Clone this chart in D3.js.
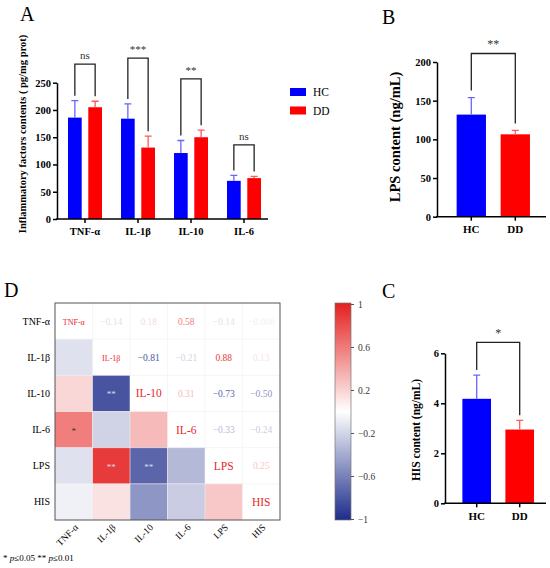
<!DOCTYPE html>
<html>
<head>
<meta charset="utf-8">
<script src="https://cdn.jsdelivr.net/npm/d3@7"></script>
<style>
  body { margin: 0; background: #fff; }
  svg { font-family: "Liberation Serif", "Times New Roman", serif; }
</style>
</head>
<body>
<svg id="fig" width="550" height="568"></svg>
<script>
// panneau A : cytokines
var cytokines = ["TNF-α", "IL-1β", "IL-10", "IL-6"];
var groups = ["HC", "DD"];
var hcMean = [186, 184, 121, 70];
var hcSD = [31, 27, 23, 10];
var ddMean = [205, 131, 150, 75];
var ddSD = [11, 21, 13, 3];
var sigA = ["ns", "***", "**", "ns"];
var bracketA = [284, 295, 257, 136];
var ticksA = [0, 50, 100, 150, 200, 250];

// panneau B : LPS
var lpsMean = [132, 106.5];
var lpsSD = [22, 5];
var ticksB = [0, 50, 100, 150, 200];

// panneau C : HIS
var hisMean = [4.18, 2.95];
var hisSD = [0.95, 0.37];
var ticksC = [0, 2, 4, 6];

// panneau D : corrélations
var vars = ["TNF-α", "IL-1β", "IL-10", "IL-6", "LPS", "HIS"];
var corr = [
  [1, -0.14, 0.18, 0.58, -0.14, -0.066],
  [-0.14, 1, -0.81, -0.21, 0.88, 0.13],
  [0.18, -0.81, 1, 0.31, -0.73, -0.50],
  [0.58, -0.21, 0.31, 1, -0.33, -0.24],
  [-0.14, 0.88, -0.73, -0.33, 1, 0.25],
  [-0.066, 0.13, -0.50, -0.24, 0.25, 1]
];
var stars = [
  ["", "", "", "", "", ""],
  ["", "", "", "", "", ""],
  ["", "**", "", "", "", ""],
  ["*", "", "", "", "", ""],
  ["", "**", "**", "", "", ""],
  ["", "", "", "", "", ""]
];
var cbTicks = [1, 0.6, 0.2, -0.2, -0.6, -1];

var colors = {HC: "#0000ff", DD: "#ff0000"};
var errColors = {HC: "#6666ff", DD: "#ff5a5a"};

var svg = d3.select("#fig");

function label(x, y, t) {
  svg.append("text").attr("x", x).attr("y", y).attr("font-size", 20).text(t);
}

// format des coefficients : 2 décimales, ou 2 chiffres significatifs si petit
function fmtCorr(v) {
  var s = Math.abs(v) < 0.1 ? d3.format(".2")(v) : d3.format(".2f")(v);
  return s.replace("-", "−");
}

// dessine un axe y en gras
function yAxis(g, scale, ticks, x) {
  var ax = g.append("g").attr("transform", `translate(${x},0)`)
    .call(d3.axisLeft(scale).tickValues(ticks).tickFormat(d => String(d)).tickSize(4).tickSizeOuter(0).tickPadding(2));
  ax.select(".domain").attr("stroke-width", 1.5);
  ax.selectAll(".tick line").attr("stroke-width", 1.5);
  ax.selectAll("text").attr("font-family", "Liberation Serif").attr("font-weight", "bold").attr("font-size", 10.5).attr("fill", "#000");
}

function xAxis(g, scale, y, x0, x1, fs) {
  g.append("line").attr("x1", x0).attr("x2", x1).attr("y1", y).attr("y2", y)
    .attr("stroke", "#000").attr("stroke-width", 1.5);
  var ax = g.append("g").attr("transform", `translate(0,${y})`)
    .call(d3.axisBottom(scale).tickSize(4).tickSizeOuter(0).tickPadding(5));
  ax.select(".domain").remove();
  ax.selectAll(".tick line").attr("stroke-width", 1.5);
  ax.selectAll("text").attr("font-family", "Liberation Serif").attr("font-weight", "bold").attr("font-size", fs).attr("fill", "#000");
}

function bracket(g, xa, xb, yTop, ya, yb, txt, fs) {
  g.append("path")
    .attr("d", `M${xa},${ya}V${yTop}H${xb}V${yb}`)
    .attr("fill", "none").attr("stroke", "#222").attr("stroke-width", 1.3);
  g.append("text").attr("x", (xa + xb) / 2).attr("y", yTop - 5)
    .attr("text-anchor", "middle").attr("font-size", fs).attr("fill", "#333").text(txt);
}

function bar(g, x, w, yv, ye, y0, grp) {
  g.append("rect").attr("x", x).attr("width", w).attr("y", yv).attr("height", y0 - yv).attr("fill", colors[grp]);
  var cx = x + w / 2;
  g.append("path").attr("d", `M${cx},${yv}V${ye}M${cx - 3.5},${ye}H${cx + 3.5}`)
    .attr("stroke", errColors[grp]).attr("stroke-width", 1.3).attr("fill", "none");
}

// ---------- A ----------
label(20, 21, "A");
var gA = svg.append("g");
var xA = d3.scaleBand().domain(cytokines).range([58.5, 270.5]);
var xIn = d3.scaleBand().domain(groups).range([-17, 17]).paddingInner(0.325);
var yA = d3.scaleLinear().domain([0, 250]).range([219, 82.7]);
cytokines.forEach((c, i) => {
  var cx = xA(c) + xA.bandwidth() / 2;
  var means = [hcMean[i], ddMean[i]], sds = [hcSD[i], ddSD[i]];
  groups.forEach((grp, j) => {
    bar(gA, cx + xIn(grp), xIn.bandwidth(), yA(means[j]), yA(means[j] + sds[j]), yA(0), grp);
  });
  var xa = cx + xIn("HC") + xIn.bandwidth() / 2, xb = cx + xIn("DD") + xIn.bandwidth() / 2;
  bracket(gA, xa, xb, yA(bracketA[i]), yA(hcMean[i] + hcSD[i]) - 5, yA(ddMean[i] + ddSD[i]) - 5, sigA[i], 11);
});
yAxis(gA, yA, ticksA, 57);
xAxis(gA, xA, 219, 56, 268, 10.5);
gA.append("text").attr("transform", "translate(26,134) rotate(-90)")
  .attr("text-anchor", "middle").attr("font-weight", "bold").attr("font-size", 10.5)
  .text("Inflammatory factors contents ( pg/mg prot)");
// légende
groups.forEach((grp, j) => {
  gA.append("rect").attr("x", 290).attr("y", 88 + j * 18.5).attr("width", 16).attr("height", 8).attr("fill", colors[grp]);
  gA.append("text").attr("x", 313).attr("y", 96 + j * 18.5).attr("font-size", 11.5).text(grp);
});

// ---------- B et C ----------
function smallPanel(mean, sd, ticks, yDom, yRange, axX, bandRange, br, legs, sig, ylab, ylabPos, ylabSize) {
  var g = svg.append("g");
  var x = d3.scaleBand().domain(groups).range(bandRange).paddingInner(0.334).paddingOuter(0.167);
  var y = d3.scaleLinear().domain(yDom).range(yRange);
  groups.forEach((grp, j) => {
    bar(g, x(grp), x.bandwidth(), y(mean[j]), y(mean[j] + sd[j]), y(0), grp);
  });
  var xa = x("HC") + x.bandwidth() / 2, xb = x("DD") + x.bandwidth() / 2;
  bracket(g, xa, xb, y(br), y(mean[0] + sd[0]) - legs, y(mean[1] + sd[1]) - legs, sig, 12);
  yAxis(g, y, ticks, axX);
  xAxis(g, x, y(0), axX - 1, 546, 11);
  g.append("text").attr("transform", `translate(${ylabPos[0]},${ylabPos[1]}) rotate(-90)`)
    .attr("text-anchor", "middle").attr("font-weight", "bold").attr("font-size", ylabSize).text(ylab);
}

label(382, 24, "B");
smallPanel(lpsMean, lpsSD, ticksB, [0, 200], [216.7, 62], 437, [449.3, 537.3], 211, 7, "**", "LPS content (ng/mL)", [400, 137], 14.5);

label(382, 298, "C");
smallPanel(hisMean, hisSD, ticksC, [0, 6], [503.3, 353.3], 445, [455.2, 541.2], 6.44, 5, "*", "HIS content (ng/mL)", [420, 430], 11.5);

// ---------- D ----------
label(4, 297, "D");
var gD = svg.append("g");
var xD = d3.scaleBand().domain(vars).range([55, 280]);
var yD = d3.scaleBand().domain(vars).range([303, 520]);
var cScale = d3.scaleLinear().domain([-1, 0, 1]).range(["#1d2c8a", "#ffffff", "#e3201f"]);

vars.forEach((r, i) => {
  vars.forEach((c, j) => {
    var v = corr[i][j];
    var x = xD(c), y = yD(r), w = xD.bandwidth(), h = yD.bandwidth();
    if (i > j) {
      gD.append("rect").attr("x", x).attr("y", y).attr("width", w).attr("height", h).attr("fill", cScale(v));
      if (stars[i][j]) {
        gD.append("text").attr("x", x + w / 2).attr("y", y + h / 2 + 4).attr("text-anchor", "middle")
          .attr("font-size", 9).attr("fill", stars[i][j] == "*" ? "#333" : "#dcdcf0").text(stars[i][j]);
      }
    } else if (i == j) {
      gD.append("text").attr("x", x + w / 2).attr("y", y + h / 2 + 4).attr("text-anchor", "middle")
        .attr("font-size", i < 2 ? 8 : 11.5).attr("fill", "#e8262b").text(r);
    } else {
      gD.append("text").attr("x", x + w / 2).attr("y", y + h / 2 + 3.5).attr("text-anchor", "middle")
        .attr("font-size", 9.5).attr("fill", cScale(v)).text(fmtCorr(v));
    }
  });
});
// grille légère
xD.domain().slice(1).forEach(c => {
  gD.append("line").attr("x1", xD(c)).attr("x2", xD(c)).attr("y1", 303).attr("y2", 520).attr("stroke", "#f0f0f0").attr("stroke-width", 0.6);
  gD.append("line").attr("y1", yD(c)).attr("y2", yD(c)).attr("x1", 55).attr("x2", 280).attr("stroke", "#f0f0f0").attr("stroke-width", 0.6);
});
gD.append("rect").attr("x", 55).attr("y", 303).attr("width", 225).attr("height", 217)
  .attr("fill", "none").attr("stroke", "#555").attr("stroke-width", 1);
vars.forEach(v => {
  gD.append("text").attr("x", 50).attr("y", yD(v) + yD.bandwidth() / 2 + 3.5).attr("text-anchor", "end")
    .attr("font-size", 10).text(v);
  gD.append("text").attr("transform", `translate(${xD(v) + xD.bandwidth() / 2 + 5},${528}) rotate(-45)`)
    .attr("text-anchor", "end").attr("font-size", 9.5).text(v);
});
var foot = gD.append("text").attr("x", 3).attr("y", 561).attr("font-size", 9);
foot.append("tspan").text("* ");
foot.append("tspan").attr("font-style", "italic").text("p");
foot.append("tspan").text("≤0.05  ** ");
foot.append("tspan").attr("font-style", "italic").text("p");
foot.append("tspan").text("≤0.01");

// barre de couleur
var cb = d3.scaleLinear().domain([-1, 1]).range([519, 304]);
var grad = svg.append("defs").append("linearGradient").attr("id", "cbgrad")
  .attr("x1", 0).attr("x2", 0).attr("y1", 1).attr("y2", 0);
[-1, 0, 1].forEach(s => grad.append("stop").attr("offset", (s + 1) / 2).attr("stop-color", cScale(s)));
svg.append("rect").attr("x", 335).attr("y", 303).attr("width", 16).attr("height", 217)
  .attr("fill", "url(#cbgrad)").attr("stroke", "#777").attr("stroke-width", 0.7);
var cbAx = svg.append("g").attr("transform", "translate(351,0)")
  .call(d3.axisRight(cb).tickValues(cbTicks).tickSize(3).tickPadding(4).tickFormat(d => String(d).replace("-", "−")));
cbAx.select(".domain").remove();
cbAx.selectAll(".tick line").attr("stroke", "#555");
cbAx.selectAll("text").attr("font-family", "Liberation Serif").attr("font-size", 9.5).attr("fill", "#333");
</script>
</body>
</html>
